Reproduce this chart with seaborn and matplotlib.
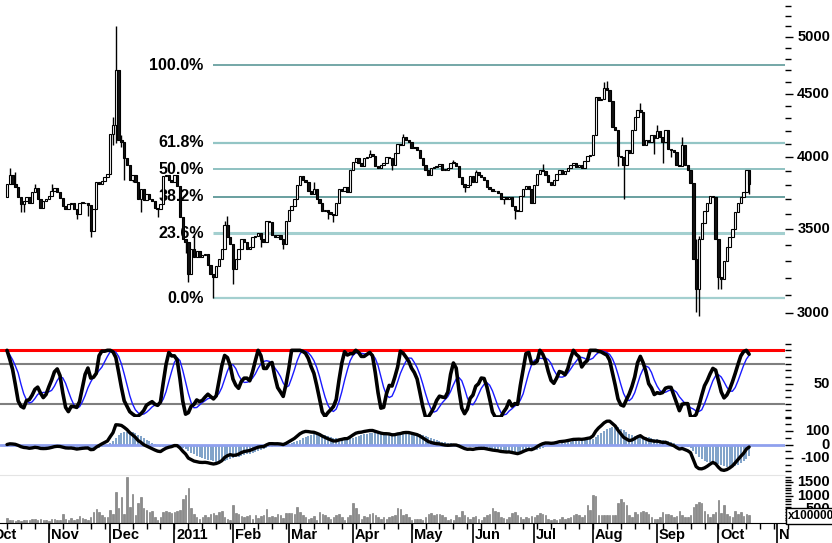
import numpy as np
import pandas as pd
import matplotlib
matplotlib.use("Agg")
import matplotlib.pyplot as plt
import matplotlib.ticker as mticker
import matplotlib.transforms as mtransforms
import seaborn as sns

# daily data, one value per weekday starting here
start_date = "2010-10-11"
first_open = 3720

closes = [
    3804, 3868, 3804, 3783, 3714, 3666, 3686, 3714, 3679, 3748,
    3776, 3700, 3645, 3686, 3700, 3727, 3755, 3776, 3748, 3707,
    3652, 3632, 3666, 3679, 3632, 3599, 3679, 3679, 3673, 3659,
    3488, 3632, 3818, 3804, 3832, 3854, 3882, 4180, 4249, 4704,
    4133, 4118, 3998, 3947, 3839, 3875, 3818, 3700, 3769, 3693,
    3734, 3700, 3686, 3645, 3632, 3666, 3861, 3868, 3839, 3825,
    3875, 3790, 3579, 3436, 3417, 3221, 3374, 3324, 3361, 3324,
    3337, 3343, 3275, 3221, 3203, 3269, 3312, 3374, 3527, 3449,
    3405, 3251, 3312, 3374, 3436, 3417, 3374, 3386, 3449, 3456,
    3475, 3436, 3417, 3553, 3546, 3462, 3449, 3462, 3436, 3405,
    3553, 3625, 3652, 3700, 3797, 3861, 3839, 3818, 3755, 3734,
    3769, 3700, 3679, 3619, 3625, 3612, 3599, 3592, 3679, 3769,
    3755, 3783, 3748, 3904, 3968, 3998, 3961, 3940, 3998, 4005,
    4028, 4013, 3940, 3925, 3947, 3961, 4005, 3998, 3947, 4035,
    4103, 4095, 4156, 4133, 4118, 4073, 4080, 4058, 3998, 3947,
    3911, 3875, 3925, 3932, 3940, 3954, 3911, 3911, 3925, 3961,
    3961, 3940, 3854, 3804, 3783, 3797, 3861, 3818, 3890, 3875,
    3854, 3839, 3783, 3769, 3755, 3755, 3741, 3700, 3714, 3700,
    3720, 3652, 3625, 3619, 3727, 3769, 3790, 3769, 3679, 3797,
    3882, 3904, 3897, 3875, 3818, 3797, 3839, 3882, 3911, 3882,
    3897, 3925, 3947, 3961, 3932, 3947, 3925, 3976, 4013, 4020,
    4172, 4474, 4450, 4458, 4550, 4533, 4442, 4234, 4210, 4013,
    4005, 3947, 4058, 4035, 4210, 4313, 4369, 4353, 4095, 4133,
    4118, 4172, 4148, 4202, 4156, 4118, 4210, 4065, 4058, 4043,
    3947, 3940, 4095, 3947, 3911, 3811, 3312, 3133, 3436, 3540,
    3619, 3679, 3727, 3714, 3436, 3203, 3192, 3300, 3386, 3449,
    3501, 3612, 3679, 3720, 3748, 3911, 3804,
]

# wick extremes that stick out past the bodies (day index: price)
wick_hi = {1: 3923, 3: 3890, 10: 3804, 16: 3804, 38: 4309, 39: 5104, 40: 4309,
           41: 4172, 67: 3469, 78: 3553, 79: 3586, 110: 3818, 130: 4058,
           142: 4180, 160: 3983, 168: 3904, 192: 3954, 214: 4600, 215: 4608,
           227: 4425, 233: 4249, 242: 4156, 247: 3436, 248: 3456}
wick_lo = {5: 3612, 6: 3612, 25: 3566, 29: 3586, 30: 3449, 38: 4095, 39: 4110,
           41: 4080, 42: 3839, 45: 3818, 48: 3612, 54: 3579, 64: 3350, 65: 3174,
           74: 3082, 81: 3162, 91: 3386, 99: 3374, 115: 3566, 117: 3546,
           138: 3911, 164: 3748, 178: 3666, 182: 3566, 219: 3933, 221: 3700,
           232: 4028, 235: 3961, 238: 4005, 247: 3004, 248: 2982, 249: 3469,
           255: 3133, 256: 3133, 266: 3734}

# volume in units of 1,000,000
volumes = [
    200, 125, 100, 75, 100, 75, 100, 125, 100, 140,
    160, 125, 160, 100, 125, 75, 160, 140, 100, 125,
    325, 160, 100, 200, 100, 160, 250, 200, 160, 125,
    225, 410, 500, 410, 290, 225, 225, 475, 350, 1125,
    540, 950, 350, 1690, 600, 1060, 290, 725, 975, 540,
    475, 410, 450, 225, 100, 225, 410, 450, 410, 375,
    410, 450, 475, 890, 1040, 1290, 540, 350, 225, 160,
    225, 290, 225, 350, 375, 290, 410, 440, 225, 160,
    100, 660, 375, 325, 250, 225, 250, 290, 160, 290,
    190, 250, 290, 500, 225, 250, 225, 350, 290, 200,
    375, 375, 375, 325, 600, 410, 290, 225, 160, 190,
    250, 100, 410, 325, 290, 225, 160, 225, 290, 325,
    225, 100, 225, 290, 750, 540, 325, 160, 250, 225,
    350, 375, 290, 225, 160, 225, 160, 225, 260, 290,
    540, 500, 290, 350, 225, 100, 160, 160, 160, 125,
    225, 350, 375, 290, 350, 325, 290, 225, 125, 160,
    100, 290, 225, 450, 290, 225, 160, 225, 250, 160,
    125, 225, 290, 350, 540, 450, 410, 225, 200, 160,
    225, 375, 410, 290, 225, 160, 225, 190, 250, 225,
    290, 375, 350, 290, 160, 125, 160, 125, 160, 225,
    160, 200, 225, 310, 350, 290, 225, 290, 660, 475,
    1040, 1000, 290, 290, 290, 290, 290, 290, 290, 725,
    875, 790, 660, 290, 225, 410, 350, 410, 450, 410,
    350, 225, 160, 160, 225, 410, 350, 325, 290, 225,
    250, 450, 290, 225, 225, 290, 600, 700, 790, 750,
    450, 325, 225, 325, 410, 850, 375, 660, 325, 250,
    225, 450, 350, 410, 250, 325, 290,
]

fib_low, fib_high = 3082, 4747
fib_start = 74
fib_levels = [0.0, 23.6, 38.2, 50.0, 61.8, 100.0]
price_ticks = [3000, 3500, 4000, 4500, 5000]
macd_ticks = [100, 0, -100]
vol_ticks = [500, 1000, 1500]
month_labels = ["Oct", "Nov", "Dec", "2011", "Feb", "Mar", "Apr", "May",
                "Jun", "Jul", "Aug", "Sep", "Oct", "Nov"]

# ---- build frame + indicators
n = len(closes)
df = pd.DataFrame({"date": pd.bdate_range(start_date, periods=n),
                   "close": closes, "volume": volumes})
df["idx"] = np.arange(n)
df["open"] = df["close"].shift(1).fillna(first_open)
df["high"] = df[["open", "close"]].max(axis=1)
df["low"] = df[["open", "close"]].min(axis=1)
for k, v in wick_hi.items():
    df.loc[k, "high"] = max(v, df.loc[k, "high"])
for k, v in wick_lo.items():
    df.loc[k, "low"] = min(v, df.loc[k, "low"])

hh = df["high"].rolling(9, min_periods=1).max()
ll = df["low"].rolling(9, min_periods=1).min()
fast_k = 100 * (df["close"] - ll) / (hh - ll).replace(0, np.nan)
df["k"] = fast_k.fillna(50).rolling(3, min_periods=1).mean()
df["d"] = df["k"].rolling(5, min_periods=1).mean()

ema12 = df["close"].ewm(span=12, adjust=False).mean()
ema26 = df["close"].ewm(span=26, adjust=False).mean()
df["macd"] = ema12 - ema26
df["signal"] = df["macd"].ewm(span=9, adjust=False).mean()

# month / week positions on the trading-day index
all_days = pd.bdate_range("2010-09-28", "2011-11-30")
base = all_days.get_loc(pd.Timestamp(start_date))
pos = pd.Series(np.arange(len(all_days)) - base, index=all_days)
month_pos = pos.groupby([all_days.year, all_days.month]).first().values[1:]
week_pos = pos[all_days.weekday == 0].values

# ---- layout in pixels
sns.set_style("white")
plt.rcParams["font.family"] = ["Liberation Sans", "DejaVu Sans"]
W, H = 832, 543
fig = plt.figure(figsize=(W / 100, H / 100), dpi=100)


def px_axes(x0, y0, x1, y1):
    return fig.add_axes([x0 / W, 1 - y1 / H, (x1 - x0) / W, (y1 - y0) / H])


AX_RIGHT = 785
ax_p = px_axes(0, 0, AX_RIGHT, 322)
ax_s = px_axes(0, 343, AX_RIGHT, 417)
ax_m = px_axes(0, 417, AX_RIGHT, 475)
ax_v = px_axes(0, 475, AX_RIGHT, 523)
ax_lab = px_axes(0, 523, 790, 543)

xlim = (-7 / 2.79, (AX_RIGHT - 7) / 2.79)
label_x = 830 / AX_RIGHT
bold = dict(fontweight="bold", color="black")

for ax in (ax_p, ax_s, ax_m, ax_v):
    ax.set_xlim(*xlim)
    for s in ax.spines.values():
        s.set_visible(False)
    ax.set_xticks([])
    ax.yaxis.tick_right()
    ax.tick_params(axis="y", which="both", direction="out", color="black",
                   width=1, labelright=False, labelleft=False)
    ax.tick_params(axis="y", which="major", length=6)
    ax.tick_params(axis="y", which="minor", length=4)


def right_labels(ax, values, size=10.5):
    tr = mtransforms.blended_transform_factory(ax.transAxes, ax.transData)
    for v in values:
        ax.text(label_x, v, f"{v}", transform=tr, ha="right", va="center",
                fontsize=size, clip_on=False, **bold)


# ---- price panel
ax_p.set_yscale("log")
ax_p.set_ylim(2948, 5355)
ax_p.yaxis.set_major_locator(mticker.FixedLocator(price_ticks))
ax_p.yaxis.set_minor_locator(mticker.FixedLocator(np.arange(2900, 5400, 100)))
ax_p.yaxis.set_major_formatter(mticker.NullFormatter())
ax_p.yaxis.set_minor_formatter(mticker.NullFormatter())
right_labels(ax_p, price_ticks)

fib_style = {0.0: ("#a3cfcf", 1.6), 23.6: ("#a3cfcf", 2.2), 38.2: ("#4f8f8f", 1.2),
             50.0: ("#86bcbc", 1.3), 61.8: ("#93c5c5", 1.6), 100.0: ("#5c9898", 1.2)}
for lev in fib_levels:
    price = fib_low + (fib_high - fib_low) * lev / 100
    col, lw = fib_style[lev]
    ax_p.hlines(price, fib_start, xlim[1], color=col, lw=lw, zorder=1)
    ax_p.annotate(f"{lev:.1f}%", xy=(fib_start, price), xytext=(-7, 0),
                  textcoords="offset points", ha="right", va="center",
                  fontsize=11.5, zorder=2, **bold)

up = df["close"] >= df["open"]
body_lo = df[["open", "close"]].min(axis=1)
body_h = (df["close"] - df["open"]).abs().clip(lower=5)
ax_p.vlines(df["idx"], df["low"], df["high"], color="black", lw=1.0, zorder=3)
ax_p.bar(df["idx"], body_h, bottom=body_lo, width=0.85,
         color=np.where(up, "white", "#111111"), edgecolor="black", lw=0.8, zorder=4)

# ---- stochastic panel
ax_s.set_ylim(0, 111)
ax_s.axhline(100, color="#ff0000", lw=2.2, zorder=1)
ax_s.axhline(80, color="#7f7f7f", lw=1.5, zorder=1)
ax_s.axhline(20, color="#7f7f7f", lw=1.5, zorder=1)
sns.lineplot(x=df["idx"], y=df["d"], ax=ax_s, color="#1a1aff", lw=1.0, zorder=3)
sns.lineplot(x=df["idx"], y=df["k"], ax=ax_s, color="black", lw=2.6, zorder=4)
ax_s.set_xlim(*xlim)
ax_s.yaxis.set_major_locator(mticker.FixedLocator([50]))
ax_s.yaxis.set_minor_locator(mticker.FixedLocator(np.arange(0, 111, 10)))
right_labels(ax_s, [50])

# ---- MACD panel (signal line drawn as bars)
ax_m.set_ylim(-226, 204)
ax_m.vlines(df["idx"], 0, df["signal"], color="#7fa2c9", lw=1.4, zorder=1)
ax_m.axhline(0, color="#8fa0ee", lw=2, zorder=2)
sns.lineplot(x=df["idx"], y=df["macd"], ax=ax_m, color="black", lw=2.4, zorder=3)
ax_m.set_xlim(*xlim)
ax_m.yaxis.set_major_locator(mticker.FixedLocator(macd_ticks))
ax_m.yaxis.set_minor_locator(mticker.FixedLocator(np.arange(-200, 201, 50)))
right_labels(ax_m, macd_ticks)

# ---- volume panel
ax_v.set_ylim(0, 1770)
ax_v.bar(df["idx"], df["volume"], width=0.55, color="#8c8c8c",
         edgecolor="#6e6e6e", lw=0.4)
ax_v.spines["bottom"].set_visible(True)
ax_v.spines["bottom"].set_color("black")
ax_v.spines["top"].set_visible(True)
ax_v.spines["top"].set_color("#e4e4e4")
ax_v.yaxis.set_major_locator(mticker.FixedLocator(vol_ticks))
ax_v.yaxis.set_minor_locator(mticker.FixedLocator(np.arange(0, 1800, 100)))
right_labels(ax_v, vol_ticks)
fig.text(788 / W, 1 - 516 / H, "x1000000", ha="left", va="center", fontsize=8.5,
         bbox=dict(boxstyle="square,pad=0.15", fc="white", ec="black", lw=1),
         zorder=10, **bold)

# ---- month labels strip
ax_lab.set_xlim(xlim[0], (790 - 7) / 2.79)
ax_lab.set_ylim(0, 1)
ax_lab.axis("off")
ax_lab.vlines(week_pos, 0.72, 1, color="black", lw=1)
ax_lab.vlines(month_pos, 0, 1, color="black", lw=1.2)
for p, lab in zip(month_pos, month_labels):
    ax_lab.text(p + 0.7, 0.4, lab, ha="left", va="center", fontsize=10.5,
                clip_on=True, **bold)

fig.savefig("out.png", dpi=100)
